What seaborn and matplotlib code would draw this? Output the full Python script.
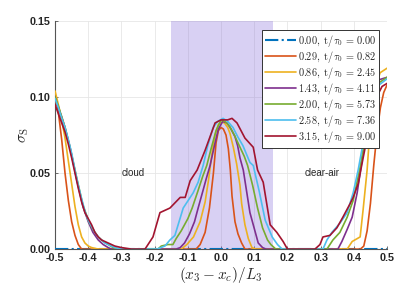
import numpy as np
import pandas as pd
import seaborn as sns
import matplotlib
matplotlib.use("Agg")
import matplotlib.pyplot as plt

# legend labels and colours (MATLAB default order)
labels = ["0.00", "0.29", "0.86", "1.43", "2.00", "2.58", "3.15"]
tau = ["0.00", "0.82", "2.45", "4.11", "5.73", "7.36", "9.00"]
colors = ["#0072bd", "#d95319", "#edb120", "#7e2f8e", "#77ac30", "#4dbeee", "#a2142f"]
xtick_vals = [-0.5, -0.4, -0.3, -0.2, -0.1, 0.0, 0.1, 0.2, 0.3, 0.4, 0.5]
xtick_labels = ["-0.5", "-0.4", "-0.3", "-0.2", "-0.1", "0.0", "0.1", "0.2", "0.3", "0.4", "0.5"]
ytick_vals = [0.0, 0.05, 0.10, 0.15]
ytick_labels = ["0.00", "0.05", "0.10", "0.15"]

# t = 0.00 : flat
x_000 = [-0.5, 0.5]
s_000 = [0.0, 0.0]

# t = 0.29
x_029 = [-0.5, -0.49, -0.48, -0.47, -0.46, -0.45, -0.44, -0.43, -0.42,
         -0.075, -0.063, -0.048, -0.035, -0.023, -0.015, -0.008, 0.0, 0.007, 0.015, 0.022,
         0.028, 0.033, 0.042, 0.051, 0.062, 0.072,
         0.42, 0.43, 0.44, 0.45, 0.46, 0.47, 0.48, 0.49, 0.5]
s_029 = [0.100, 0.090, 0.072, 0.050, 0.032, 0.018, 0.009, 0.003, 0.0,
         0.0, 0.003, 0.011, 0.027, 0.050, 0.070, 0.078, 0.080, 0.079, 0.075, 0.066,
         0.052, 0.035, 0.018, 0.010, 0.004, 0.0,
         0.0, 0.002, 0.012, 0.030, 0.055, 0.077, 0.093, 0.103, 0.108]

# t = 0.86
x_086 = [-0.5, -0.49, -0.48, -0.47, -0.46, -0.45, -0.44, -0.43, -0.42, -0.41, -0.40, -0.39, -0.37,
         -0.12, -0.103, -0.083, -0.063, -0.048, -0.038, -0.028, -0.018, -0.008, 0.002, 0.01, 0.02,
         0.027, 0.037, 0.047, 0.057, 0.062, 0.072, 0.082, 0.093, 0.105,
         0.38, 0.395, 0.419, 0.428, 0.44, 0.449, 0.464, 0.479, 0.5]
s_086 = [0.104, 0.095, 0.085, 0.073, 0.058, 0.043, 0.028, 0.016, 0.008, 0.004, 0.002, 0.001, 0.0,
         0.0, 0.003, 0.008, 0.018, 0.031, 0.045, 0.062, 0.075, 0.082, 0.0835, 0.083, 0.080,
         0.076, 0.067, 0.056, 0.042, 0.030, 0.016, 0.007, 0.001, 0.0,
         0.0, 0.005, 0.008, 0.026, 0.052, 0.080, 0.105, 0.116, 0.119]

# t = 1.43
x_143 = [-0.5, -0.49, -0.48, -0.47, -0.455, -0.434, -0.416, -0.40, -0.386, -0.37, -0.355, -0.34, -0.33,
         -0.135, -0.123, -0.11, -0.095, -0.08, -0.069, -0.055, -0.045, -0.033, -0.02, -0.008, 0.005,
         0.018, 0.03, 0.042, 0.05, 0.057, 0.067, 0.077, 0.087, 0.097, 0.112, 0.125, 0.135,
         0.352, 0.364, 0.38, 0.395, 0.41, 0.425, 0.44, 0.455, 0.47, 0.5]
s_143 = [0.100, 0.093, 0.087, 0.080, 0.067, 0.045, 0.028, 0.018, 0.011, 0.006, 0.003, 0.001, 0.0,
         0.0, 0.001, 0.004, 0.010, 0.018, 0.027, 0.038, 0.046, 0.055, 0.068, 0.079, 0.084,
         0.083, 0.079, 0.074, 0.068, 0.060, 0.052, 0.038, 0.024, 0.016, 0.004, 0.001, 0.0,
         0.0, 0.005, 0.013, 0.021, 0.037, 0.059, 0.085, 0.103, 0.111, 0.113]

# t = 2.00
x_200 = [-0.5, -0.49, -0.48, -0.47, -0.455, -0.434, -0.416, -0.40, -0.386, -0.37, -0.355, -0.34,
         -0.325, -0.31,
         -0.19, -0.18, -0.16, -0.145, -0.135, -0.12, -0.10, -0.087, -0.07, -0.055, -0.043, -0.03,
         -0.015, 0.0, 0.012, 0.025, 0.04, 0.055, 0.07, 0.08, 0.095, 0.11, 0.125, 0.14, 0.15, 0.165,
         0.319, 0.337, 0.358, 0.38, 0.398, 0.419, 0.44, 0.455, 0.473, 0.5]
s_200 = [0.100, 0.094, 0.087, 0.080, 0.067, 0.046, 0.029, 0.019, 0.013, 0.008, 0.005, 0.003,
         0.001, 0.0,
         0.0, 0.002, 0.003, 0.003, 0.007, 0.012, 0.020, 0.027, 0.038, 0.048, 0.055, 0.066,
         0.078, 0.085, 0.084, 0.081, 0.075, 0.068, 0.061, 0.055, 0.042, 0.027, 0.014, 0.006, 0.003, 0.0,
         0.0, 0.006, 0.011, 0.021, 0.032, 0.054, 0.080, 0.098, 0.109, 0.113]

# t = 2.58
x_258 = [-0.5, -0.49, -0.48, -0.47, -0.46, -0.45, -0.44, -0.43, -0.42, -0.41, -0.40, -0.39,
         -0.38, -0.37, -0.36, -0.35, -0.34, -0.33, -0.32, -0.31, -0.29,
         -0.193, -0.169, -0.154, -0.139, -0.114, -0.084, -0.069, -0.054, -0.04, -0.024, -0.01,
         0.006, 0.02, 0.036, 0.05, 0.066, 0.087, 0.097, 0.115, 0.133, 0.154, 0.17, 0.184,
         0.307, 0.319, 0.334, 0.358, 0.38, 0.398, 0.413, 0.428, 0.449, 0.47, 0.5]
s_258 = [0.099, 0.093, 0.086, 0.080, 0.072, 0.063, 0.052, 0.042, 0.033, 0.025, 0.019, 0.015,
         0.011, 0.008, 0.006, 0.004, 0.003, 0.002, 0.001, 0.0005, 0.0,
         0.0, 0.002, 0.006, 0.009, 0.027, 0.037, 0.044, 0.055, 0.068, 0.080, 0.084,
         0.086, 0.084, 0.080, 0.074, 0.068, 0.057, 0.055, 0.038, 0.019, 0.008, 0.003, 0.0,
         0.0, 0.006, 0.011, 0.017, 0.024, 0.037, 0.052, 0.070, 0.093, 0.107, 0.112]

# t = 3.15
x_315 = [-0.5, -0.49, -0.48, -0.47, -0.46, -0.45, -0.44, -0.43, -0.42, -0.41, -0.40, -0.39,
         -0.38, -0.37, -0.36, -0.35, -0.34, -0.33, -0.32, -0.30, -0.27,
         -0.229, -0.205, -0.184, -0.154, -0.123, -0.108, -0.093, -0.072, -0.048, -0.018, 0.0,
         0.02, 0.033, 0.048, 0.072, 0.097, 0.11, 0.127, 0.148, 0.168, 0.187, 0.2,
         0.283, 0.298, 0.307, 0.328, 0.349, 0.367, 0.389, 0.398, 0.413, 0.428, 0.449, 0.464,
         0.485, 0.5]
s_315 = [0.095, 0.089, 0.083, 0.077, 0.069, 0.060, 0.050, 0.040, 0.031, 0.024, 0.020, 0.016,
         0.011, 0.008, 0.006, 0.005, 0.004, 0.003, 0.002, 0.001, 0.0,
         0.0, 0.008, 0.024, 0.027, 0.034, 0.034, 0.045, 0.052, 0.065, 0.083, 0.085,
         0.085, 0.086, 0.083, 0.073, 0.067, 0.052, 0.044, 0.016, 0.011, 0.005, 0.0,
         0.0, 0.003, 0.008, 0.009, 0.014, 0.021, 0.030, 0.034, 0.043, 0.060, 0.083, 0.098,
         0.107, 0.109]

series_x = [x_000, x_029, x_086, x_143, x_200, x_258, x_315]
series_s = [s_000, s_029, s_086, s_143, s_200, s_258, s_315]

cloud_lo, cloud_hi = -0.15, 0.155

sns.set_style("whitegrid")
plt.rcParams["font.family"] = ["Liberation Sans", "DejaVu Sans"]
plt.rcParams["mathtext.fontset"] = "cm"

fig = plt.figure(figsize=(3.99, 2.85), dpi=100)
ax = fig.add_axes([0.138, 0.126, 0.832, 0.80])

ax.axvspan(cloud_lo, cloud_hi, color=(0.5, 0.4, 0.85), alpha=0.3, lw=0, zorder=1)

for i in range(len(labels)):
    lab = r"$\mathrm{" + labels[i] + r",\ t}/\tau_0\,=\,\mathrm{" + tau[i] + "}$"
    df = pd.DataFrame({"x": series_x[i], "s": series_s[i]})
    sns.lineplot(data=df, x="x", y="s", color=colors[i], lw=1.2 if i else 1.5,
                 ls="-." if i == 0 else "-", label=lab, ax=ax, sort=False, zorder=3)

ax.set_xlim(-0.5, 0.5)
ax.set_ylim(0, 0.15)
ax.set_xticks(xtick_vals)
ax.set_xticklabels(xtick_labels)
ax.set_yticks(ytick_vals)
ax.set_yticklabels(ytick_labels)
for t in ax.get_xticklabels() + ax.get_yticklabels():
    t.set_fontweight("bold")
    t.set_fontsize(7.8)
ax.tick_params(direction="in", length=2.5, width=0.6, color="#555555", pad=3,
               bottom=True, left=True)
ax.grid(True, color="#e6e6e6", lw=0.6)
ax.set_axisbelow(True)
for sp in ["top", "right"]:
    ax.spines[sp].set_visible(False)
for sp in ["left", "bottom"]:
    ax.spines[sp].set_color("#555555")
    ax.spines[sp].set_linewidth(0.8)

ax.set_xlabel(r"$(x_3 - x_c)/L_3$", fontsize=11, labelpad=1)
ax.set_ylabel(r"$\sigma_{\mathrm{S}}$", fontsize=11, labelpad=-1)

ax.text(-0.265, 0.05, "cloud", fontsize=7, ha="center", va="center")
ax.text(0.305, 0.05, "clear-air", fontsize=7, ha="center", va="center")

leg = ax.legend(loc="upper right", bbox_to_anchor=(0.976, 0.962), fontsize=7.4,
                frameon=True, fancybox=False, framealpha=1, edgecolor="#333333",
                handlelength=3.0, handletextpad=0.2, labelspacing=0.0,
                borderpad=0.3, borderaxespad=0)
leg.get_frame().set_linewidth(0.7)

fig.savefig("out.png", dpi=100)
